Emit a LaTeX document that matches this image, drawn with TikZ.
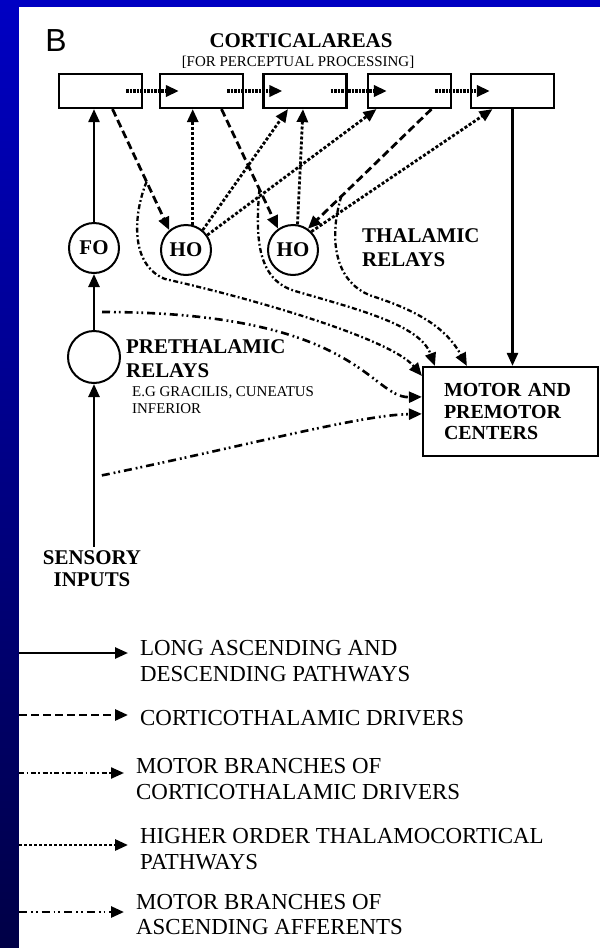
\documentclass[tikz,border=0pt]{standalone}
\usepackage{fontspec}
\setmainfont{Liberation Serif}
\setsansfont{Liberation Sans}
\usetikzlibrary{arrows.meta}
\definecolor{frametop}{RGB}{0,0,195}
\definecolor{framebot}{RGB}{0,0,70}

\begin{document}
\begin{tikzpicture}[x=1bp,y=-1bp,>={Triangle[length=13bp,width=11bp]},
  cortex/.style={draw,line width=2.2bp,minimum width=83bp,minimum height=34bp,inner sep=0pt},
  relay/.style={draw,circle,line width=2bp,minimum size=50bp,inner sep=0pt,font=\fontsize{21}{22}\selectfont\bfseries},
  lbl/.style={font=\fontsize{21}{24}\selectfont\bfseries,inner sep=0pt,align=left},
  smalltext/.style={font=\fontsize{15}{17}\selectfont,inner sep=0pt,align=left},
  legtext/.style={font=\fontsize{23}{26}\selectfont,inner sep=0pt,anchor=west,align=left},
  ascpath/.style={->,line width=2.5bp},
  ctdrive/.style={->,line width=2.8bp,dash pattern=on 8bp off 4bp},
  ctmotor/.style={->,line width=2.3bp,dash pattern=on 5bp off 2.5bp on 1.8bp off 2.5bp},
  hopath/.style={->,line width=2.8bp,dash pattern=on 3bp off 2bp},
  afmotor/.style={->,line width=2.6bp,dash pattern=on 8bp off 4bp on 1.8bp off 3bp on 1.8bp off 4bp},
  ccpath/.style={->,line width=3.5bp,dash pattern=on 2.5bp off 1bp}]

\shade[top color=frametop,bottom color=framebot] (0,0) rectangle (600,948);
\fill[white] (19,7) rectangle (600,948);
\useasboundingbox (0,0) rectangle (600,948);

%%%%%%%%%%%%%%%%%%%%%%%%%%%%%%%%%%%%%%

\node[lbl,font=\fontsize{32}{32}\selectfont\sffamily] (panel) at (56,41) {B};
\node[lbl] (cortlbl) at (301,41) {CORTICALAREAS};
\node[smalltext] (perclbl) at (298,62) {[FOR PERCEPTUAL PROCESSING]};

\foreach \i/\x in {1/100.5,2/201.5,3/305,4/409.5,5/512.5}
  \node[cortex] (c\i) at (\x,91) {};

\foreach \i/\j in {1/2,2/3,3/4,4/5}
  \draw[ccpath] ([xshift=-17bp]c\i.east) -- ([xshift=20bp]c\j.west);

%%%%%%%%%%%%%%%%%%%%%%%%%%%%%%%%%%%%%%

\node[relay] (fo) at (94,248) {FO};
\node[relay] (ho1) at (186,250) {HO};
\node[relay] (ho2) at (293,250) {HO};
\node[relay,minimum size=52bp] (pre) at (94,357) {};

\node[lbl,anchor=west] (thallbl) at (362,248) {THALAMIC\\RELAYS};
\node[lbl,anchor=west] (prelbl) at (126,359) {PRETHALAMIC\\RELAYS};
\node[smalltext,anchor=west] (eglbl) at (132,400) {E.G GRACILIS, CUNEATUS\\INFERIOR};

\node[draw,line width=2.2bp,minimum width=175bp,minimum height=89bp,inner xsep=21bp,text width=133bp,align=left,
  font=\fontsize{20}{22}\selectfont\bfseries] (motor) at (510.5,411.5) {MOTOR AND\\PREMOTOR\\CENTERS};

\node[lbl,align=center,font=\fontsize{21}{22}\selectfont\bfseries] (senslbl) at (92,569) {SENSORY\\INPUTS};

%%%%%%%%%%%%%%%%%%%%%%%%%%%%%%%%%%%%%%

\draw[ascpath,shorten <=4bp] (pre.south |- senslbl.north) -- (pre.south);
\draw[ascpath] (pre.north) -- (fo.south);
\draw[ascpath] (fo.north) -- (fo.north |- c1.south);
\draw[ascpath] (c5.south) -- (c5.south |- motor.north);

\draw[ctdrive] ([xshift=12bp]c1.south) -- coordinate[pos=0.6] (b1) (ho1.130);
\draw[ctdrive] ([xshift=20bp]c2.south) -- coordinate[pos=0.67] (b2) (ho2.125);
\draw[ctdrive] ([xshift=22bp]c4.south) -- coordinate[pos=0.73] (b3) (ho2.55);

\draw[hopath] (ho1.75) -- (ho1.75 |- c2.south);
\draw[hopath] (ho1.50) -- ([xshift=-17bp]c3.south);
\draw[hopath] (ho1.35) -- ([xshift=-33bp]c4.south);
\draw[hopath] (ho2.80) -- ([xshift=-2bp]c3.south);
\draw[hopath] (ho2.45) -- ([xshift=-20bp]c5.south);

\draw[ctmotor] (b1) .. controls (133,215) and (130,265) .. (165,279)
  .. controls (250,298) and (390,338) .. ([yshift=-10bp]motor.north west);
\draw[ctmotor] (b2) .. controls (255,240) and (258,280) .. (295,291)
  .. controls (360,310) and (420,325) .. ([xshift=13bp]motor.north west);
\draw[ctmotor] (b3) .. controls (328,240) and (335,285) .. (375,297)
  .. controls (430,315) and (450,335) .. ([xshift=45bp]motor.north west);

\coordinate (af1) at (94,312);
\coordinate (af2) at (94,477);
\draw[afmotor,shorten <=8bp] (af1) .. controls (360,312) and (370,398) .. ([yshift=-31bp]motor.north west);
\draw[afmotor,shorten <=8bp] (af2) .. controls (250,445) and (360,415) .. ([yshift=-48bp]motor.north west);

%%%%%%%%%%%%%%%%%%%%%%%%%%%%%%%%%%%%%%

\foreach \sty/\ay/\ty/\lx/\txt [count=\i] in {
  ascpath/653/661/140/{LONG ASCENDING AND\\DESCENDING PATHWAYS},
  ctdrive/715/718/140/{CORTICOTHALAMIC DRIVERS},
  ctmotor/773/779.5/136/{MOTOR BRANCHES OF\\CORTICOTHALAMIC DRIVERS},
  hopath/845/849/140/{HIGHER ORDER THALAMOCORTICAL\\PATHWAYS},
  afmotor/912/914.5/136/{MOTOR BRANCHES OF\\ASCENDING AFFERENTS}}
{
  \node[legtext] (leg\i) at (\lx,\ty) {\txt};
  \coordinate (legs\i) at (19,\ay);
  \draw[\sty,shorten >=12bp] (legs\i) -- (legs\i -| leg\i.west);
}

\end{tikzpicture}
\end{document}
